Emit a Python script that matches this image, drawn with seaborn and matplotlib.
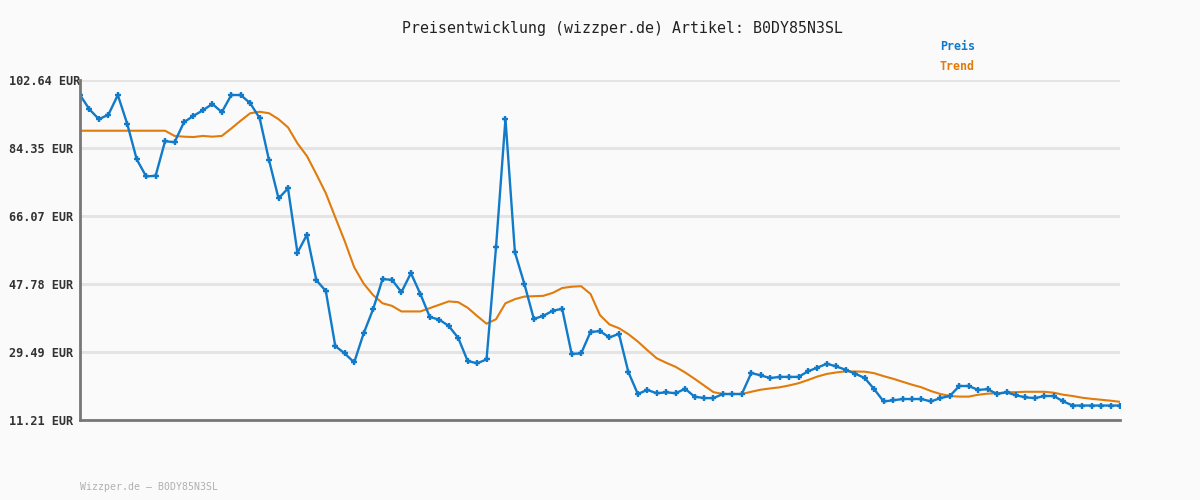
import matplotlib.pyplot as plt
import pandas as pd
import seaborn as sns

# Preisdaten
preis = [
    98.6, 94.75, 92.1, 93.3, 98.6, 90.8, 81.3, 76.7, 76.9, 86.2,
    85.9, 91.3, 93.0, 94.5, 96.2, 94.0, 98.6, 98.6, 96.4, 92.4,
    81.0, 70.8, 73.5, 56.2, 61.0, 48.8, 45.9, 31.1, 29.1, 26.7,
    34.5, 41.0, 49.1, 48.9, 45.6, 50.7, 45.1, 38.9, 38.2, 36.5,
    33.3, 27.1, 26.45, 27.5, 57.6, 92.2, 56.3, 47.8, 38.4, 39.2,
    40.6, 41.1, 29.0, 29.1, 34.9, 35.1, 33.4, 34.4, 24.1, 18.2,
    19.3, 18.4, 18.66, 18.4, 19.6, 17.5, 17.1, 17.1, 18.2, 18.2,
    18.2, 23.85, 23.2, 22.5, 22.8, 22.8, 22.8, 24.3, 25.3, 26.35,
    25.6, 24.7, 23.65, 22.5, 19.5, 16.2, 16.5, 16.85, 16.85, 16.85,
    16.2, 17.1, 17.66, 20.35, 20.35, 19.3, 19.5, 18.2, 18.66, 17.85,
    17.3, 17.1, 17.66, 17.66, 16.2, 15.1, 15.1, 15.1, 15.1, 15.1,
    15.1,
]
trend = [
    89.0, 89.0, 89.0, 89.0, 89.0, 89.0, 89.0, 89.0, 89.0, 89.0,
    87.6, 87.4, 87.3, 87.6, 87.4, 87.6, 89.6, 91.7, 93.7, 94.1,
    93.7, 92.1, 89.9, 85.6, 82.2, 77.3, 72.2, 65.7, 59.3, 52.3,
    47.9, 44.8, 42.6, 41.9, 40.4, 40.4, 40.4, 41.3, 42.2, 43.1,
    42.9, 41.4, 39.2, 37.1, 38.3, 42.6, 43.7, 44.4, 44.5, 44.6,
    45.4, 46.7, 47.05, 47.2, 45.1, 39.4, 36.9, 35.9, 34.3, 32.3,
    30.0, 27.8, 26.6, 25.5, 24.0, 22.3, 20.5, 18.7, 18.2, 18.2,
    18.2, 18.8, 19.36, 19.7, 20.0, 20.5, 21.1, 21.96, 22.9, 23.6,
    24.0, 24.3, 24.25, 24.2, 23.8, 23.0, 22.3, 21.5, 20.7, 20.0,
    19.0, 18.2, 17.66, 17.5, 17.5, 18.0, 18.3, 18.4, 18.66, 18.7,
    18.8, 18.8, 18.8, 18.55, 18.0, 17.66, 17.2, 16.9, 16.66, 16.4,
    16.1,
]
y_ticks = [11.21, 29.49, 47.78, 66.07, 84.35, 102.64]
y_labels = ["11.21 EUR", "29.49 EUR", "47.78 EUR", "66.07 EUR", "84.35 EUR", "102.64 EUR"]

df = pd.DataFrame({"idx": range(len(preis)), "Preis": preis, "Trend": trend})

blue = "#117ac9"
orange = "#e07b0c"
bg = "#fafafa"

sns.set_style("white")
plt.rcParams["font.family"] = ["DejaVu Sans Mono", "DejaVu Sans"]

fig = plt.figure(figsize=(12, 5), dpi=100, facecolor=bg)
ax = fig.add_axes([80 / 1200, 80 / 500, 1040 / 1200, 340 / 500])
ax.set_facecolor(bg)

sns.lineplot(data=df, x="idx", y="Trend", ax=ax, color=orange, linewidth=1.5, zorder=3)
sns.lineplot(data=df, x="idx", y="Preis", ax=ax, color=blue, linewidth=1.7,
             marker="+", markersize=4.5, markeredgewidth=1.7, markeredgecolor=blue, zorder=4)

ax.set_xlim(0, len(preis) - 1)
ax.set_ylim(y_ticks[0], y_ticks[-1])
ax.set_yticks(y_ticks)
ax.set_yticklabels(y_labels, fontsize=8.6, fontweight="bold", color="#333333", ha="left")
ax.set_xticks([])
ax.set_xlabel("")
ax.set_ylabel("")
ax.tick_params(axis="y", length=0, pad=51)
ax.grid(axis="y", color="#e4e4e4", linewidth=2.2)
ax.set_axisbelow(True)
for side in ["top", "right"]:
    ax.spines[side].set_visible(False)
for side in ["left", "bottom"]:
    ax.spines[side].set_color("#777777")
    ax.spines[side].set_linewidth(2)
ax.spines["left"].set_zorder(5)

fig.text(623 / 1200, 1 - 28 / 500, "Preisentwicklung (wizzper.de) Artikel: B0DY85N3SL",
         ha="center", va="center", fontsize=10.7, color="#222222")
fig.text(940 / 1200, 1 - 47 / 500, "Preis", ha="left", va="center",
         fontsize=8.4, fontweight="bold", color=blue)
fig.text(940 / 1200, 1 - 67 / 500, "Trend", ha="left", va="center",
         fontsize=8.4, fontweight="bold", color=orange)
fig.text(80 / 1200, 1 - 487 / 500, "Wizzper.de \u2013 B0DY85N3SL", ha="left", va="center",
         fontsize=7.1, color="#b0b0b0")

fig.savefig("out.png", dpi=100, facecolor=bg)
